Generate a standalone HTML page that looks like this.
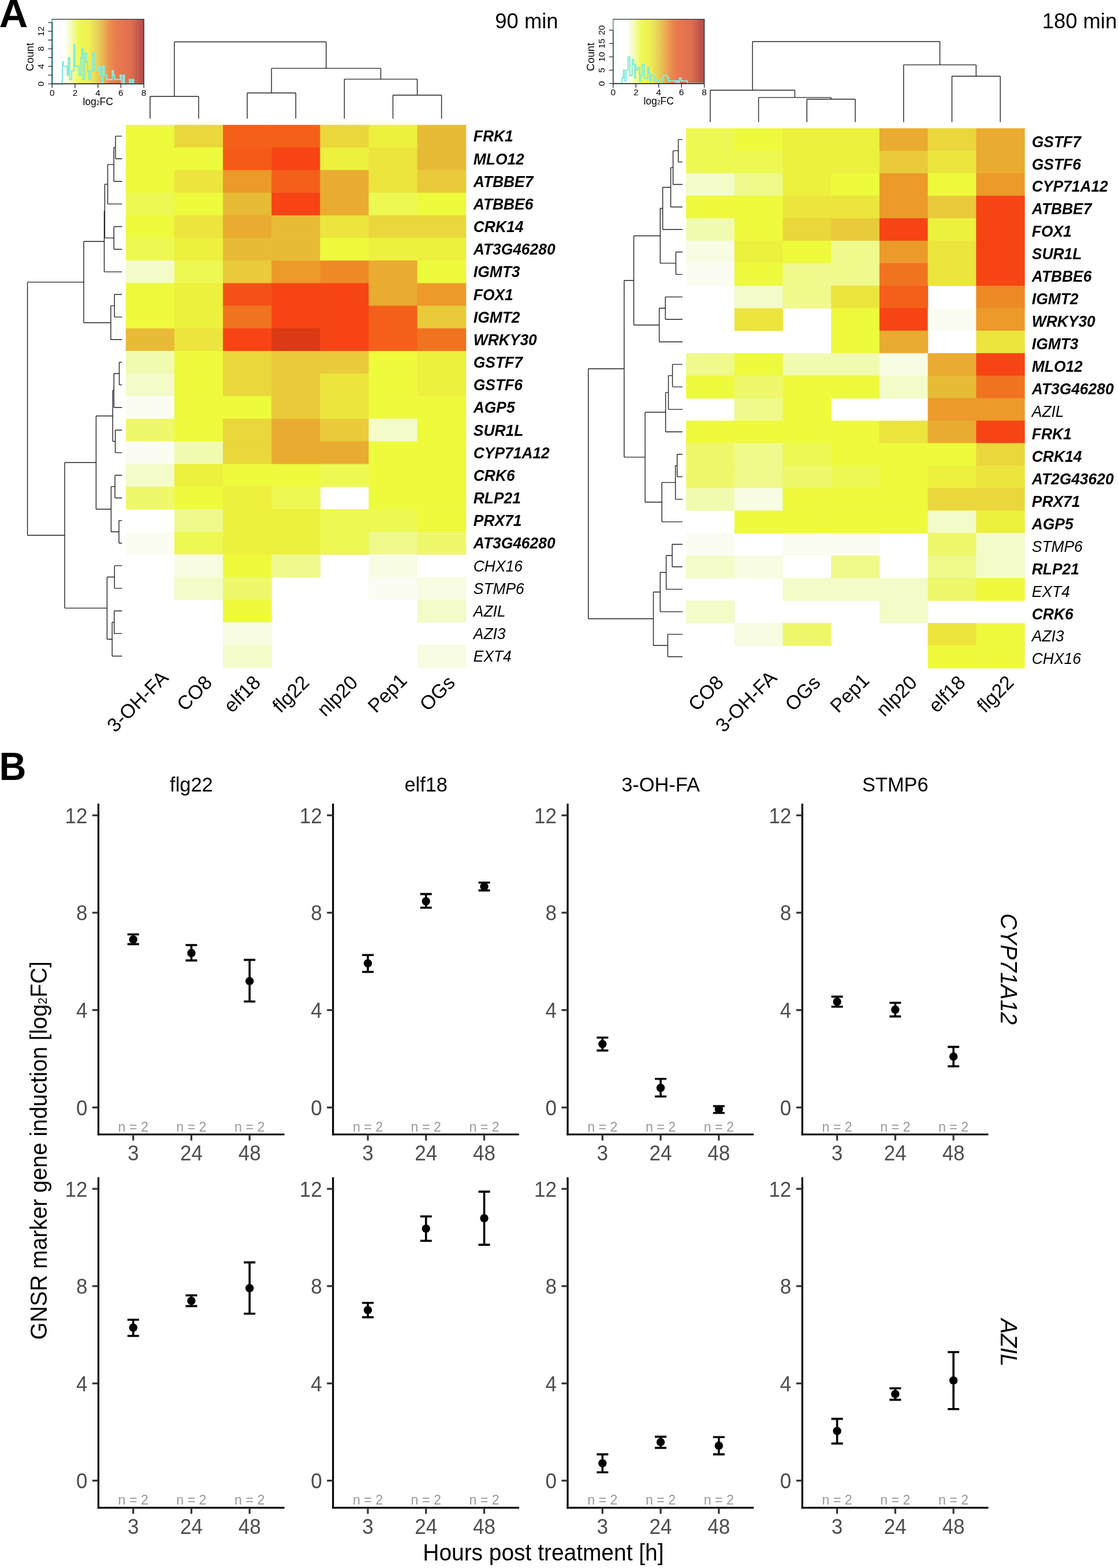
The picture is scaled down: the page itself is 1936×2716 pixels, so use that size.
<!DOCTYPE html><html><head><meta charset="utf-8"><title>Figure</title><style>html,body{margin:0;padding:0;background:#fff;}svg{display:block;}</style></head><body>
<svg width="1936" height="2716" viewBox="0 0 1936 2716" font-family="'Liberation Sans', Arial, Helvetica, sans-serif">
<rect width="1936" height="2716" fill="#fff"/>
<text transform="translate(-1.6,47)" font-size="69" font-weight="bold">A</text>
<text transform="translate(-1.6,1350.6) scale(0.94,1)" font-size="69" font-weight="bold">B</text>
<rect x="217.8" y="216.3" width="84.72" height="39.76" fill="#eefa3c"/>
<rect x="301.92" y="216.3" width="84.72" height="39.76" fill="#ead73b"/>
<rect x="386.04" y="216.3" width="84.72" height="39.76" fill="#f4601a"/>
<rect x="470.16" y="216.3" width="84.72" height="39.76" fill="#f4601a"/>
<rect x="554.28" y="216.3" width="84.72" height="39.76" fill="#ead73b"/>
<rect x="638.4" y="216.3" width="84.72" height="39.76" fill="#edf03c"/>
<rect x="722.52" y="216.3" width="84.72" height="39.76" fill="#e8bb36"/>
<rect x="217.8" y="255.46" width="84.72" height="39.76" fill="#eefa3c"/>
<rect x="301.92" y="255.46" width="84.72" height="39.76" fill="#eefa3c"/>
<rect x="386.04" y="255.46" width="84.72" height="39.76" fill="#f55a18"/>
<rect x="470.16" y="255.46" width="84.72" height="39.76" fill="#f64415"/>
<rect x="554.28" y="255.46" width="84.72" height="39.76" fill="#edf03c"/>
<rect x="638.4" y="255.46" width="84.72" height="39.76" fill="#ece53d"/>
<rect x="722.52" y="255.46" width="84.72" height="39.76" fill="#e8bb36"/>
<rect x="217.8" y="294.62" width="84.72" height="39.76" fill="#eefa3c"/>
<rect x="301.92" y="294.62" width="84.72" height="39.76" fill="#ece53d"/>
<rect x="386.04" y="294.62" width="84.72" height="39.76" fill="#ec9a2a"/>
<rect x="470.16" y="294.62" width="84.72" height="39.76" fill="#f4601a"/>
<rect x="554.28" y="294.62" width="84.72" height="39.76" fill="#e9ab30"/>
<rect x="638.4" y="294.62" width="84.72" height="39.76" fill="#ece53d"/>
<rect x="722.52" y="294.62" width="84.72" height="39.76" fill="#e9ca3a"/>
<rect x="217.8" y="333.78" width="84.72" height="39.76" fill="#eef852"/>
<rect x="301.92" y="333.78" width="84.72" height="39.76" fill="#eefa3c"/>
<rect x="386.04" y="333.78" width="84.72" height="39.76" fill="#e8bb36"/>
<rect x="470.16" y="333.78" width="84.72" height="39.76" fill="#f64415"/>
<rect x="554.28" y="333.78" width="84.72" height="39.76" fill="#e9ab30"/>
<rect x="638.4" y="333.78" width="84.72" height="39.76" fill="#eef852"/>
<rect x="722.52" y="333.78" width="84.72" height="39.76" fill="#eefa3c"/>
<rect x="217.8" y="372.94" width="84.72" height="39.76" fill="#eefa3c"/>
<rect x="301.92" y="372.94" width="84.72" height="39.76" fill="#ece53d"/>
<rect x="386.04" y="372.94" width="84.72" height="39.76" fill="#e9ab30"/>
<rect x="470.16" y="372.94" width="84.72" height="39.76" fill="#e8bb36"/>
<rect x="554.28" y="372.94" width="84.72" height="39.76" fill="#ece53d"/>
<rect x="638.4" y="372.94" width="84.72" height="39.76" fill="#ead73b"/>
<rect x="722.52" y="372.94" width="84.72" height="39.76" fill="#ead73b"/>
<rect x="217.8" y="412.1" width="84.72" height="39.76" fill="#eef852"/>
<rect x="301.92" y="412.1" width="84.72" height="39.76" fill="#edf03c"/>
<rect x="386.04" y="412.1" width="84.72" height="39.76" fill="#e8bb36"/>
<rect x="470.16" y="412.1" width="84.72" height="39.76" fill="#e8bb36"/>
<rect x="554.28" y="412.1" width="84.72" height="39.76" fill="#eefa3c"/>
<rect x="638.4" y="412.1" width="84.72" height="39.76" fill="#edf03c"/>
<rect x="722.52" y="412.1" width="84.72" height="39.76" fill="#edf03c"/>
<rect x="217.8" y="451.26" width="84.72" height="39.76" fill="#f3fbc9"/>
<rect x="301.92" y="451.26" width="84.72" height="39.76" fill="#eef852"/>
<rect x="386.04" y="451.26" width="84.72" height="39.76" fill="#e9ca3a"/>
<rect x="470.16" y="451.26" width="84.72" height="39.76" fill="#ec9a2a"/>
<rect x="554.28" y="451.26" width="84.72" height="39.76" fill="#ee8a25"/>
<rect x="638.4" y="451.26" width="84.72" height="39.76" fill="#e9ab30"/>
<rect x="722.52" y="451.26" width="84.72" height="39.76" fill="#eefa3c"/>
<rect x="217.8" y="490.42" width="84.72" height="39.76" fill="#eefa3c"/>
<rect x="301.92" y="490.42" width="84.72" height="39.76" fill="#edf03c"/>
<rect x="386.04" y="490.42" width="84.72" height="39.76" fill="#f55117"/>
<rect x="470.16" y="490.42" width="84.72" height="39.76" fill="#f64415"/>
<rect x="554.28" y="490.42" width="84.72" height="39.76" fill="#f64415"/>
<rect x="638.4" y="490.42" width="84.72" height="39.76" fill="#e9ab30"/>
<rect x="722.52" y="490.42" width="84.72" height="39.76" fill="#ec9a2a"/>
<rect x="217.8" y="529.58" width="84.72" height="39.76" fill="#eefa3c"/>
<rect x="301.92" y="529.58" width="84.72" height="39.76" fill="#edf03c"/>
<rect x="386.04" y="529.58" width="84.72" height="39.76" fill="#f07420"/>
<rect x="470.16" y="529.58" width="84.72" height="39.76" fill="#f64415"/>
<rect x="554.28" y="529.58" width="84.72" height="39.76" fill="#f64415"/>
<rect x="638.4" y="529.58" width="84.72" height="39.76" fill="#f4601a"/>
<rect x="722.52" y="529.58" width="84.72" height="39.76" fill="#e9ca3a"/>
<rect x="217.8" y="568.74" width="84.72" height="39.76" fill="#e8bb36"/>
<rect x="301.92" y="568.74" width="84.72" height="39.76" fill="#ece53d"/>
<rect x="386.04" y="568.74" width="84.72" height="39.76" fill="#f64415"/>
<rect x="470.16" y="568.74" width="84.72" height="39.76" fill="#da3a14"/>
<rect x="554.28" y="568.74" width="84.72" height="39.76" fill="#f64415"/>
<rect x="638.4" y="568.74" width="84.72" height="39.76" fill="#f4601a"/>
<rect x="722.52" y="568.74" width="84.72" height="39.76" fill="#f07420"/>
<rect x="217.8" y="607.9" width="84.72" height="39.76" fill="#f1fbb0"/>
<rect x="301.92" y="607.9" width="84.72" height="39.76" fill="#eefa3c"/>
<rect x="386.04" y="607.9" width="84.72" height="39.76" fill="#ead73b"/>
<rect x="470.16" y="607.9" width="84.72" height="39.76" fill="#e9ca3a"/>
<rect x="554.28" y="607.9" width="84.72" height="39.76" fill="#e9ca3a"/>
<rect x="638.4" y="607.9" width="84.72" height="39.76" fill="#eefa3c"/>
<rect x="722.52" y="607.9" width="84.72" height="39.76" fill="#edf03c"/>
<rect x="217.8" y="647.06" width="84.72" height="39.76" fill="#f3fbc9"/>
<rect x="301.92" y="647.06" width="84.72" height="39.76" fill="#eefa3c"/>
<rect x="386.04" y="647.06" width="84.72" height="39.76" fill="#ead73b"/>
<rect x="470.16" y="647.06" width="84.72" height="39.76" fill="#e9ca3a"/>
<rect x="554.28" y="647.06" width="84.72" height="39.76" fill="#ece53d"/>
<rect x="638.4" y="647.06" width="84.72" height="39.76" fill="#eefa3c"/>
<rect x="722.52" y="647.06" width="84.72" height="39.76" fill="#edf03c"/>
<rect x="217.8" y="686.22" width="84.72" height="39.76" fill="#fbfdf2"/>
<rect x="301.92" y="686.22" width="84.72" height="39.76" fill="#eefa3c"/>
<rect x="386.04" y="686.22" width="84.72" height="39.76" fill="#eefa3c"/>
<rect x="470.16" y="686.22" width="84.72" height="39.76" fill="#e9ca3a"/>
<rect x="554.28" y="686.22" width="84.72" height="39.76" fill="#ece53d"/>
<rect x="638.4" y="686.22" width="84.72" height="39.76" fill="#eefa3c"/>
<rect x="722.52" y="686.22" width="84.72" height="39.76" fill="#eefa3c"/>
<rect x="217.8" y="725.38" width="84.72" height="39.76" fill="#eef86a"/>
<rect x="301.92" y="725.38" width="84.72" height="39.76" fill="#eefa3c"/>
<rect x="386.04" y="725.38" width="84.72" height="39.76" fill="#ead73b"/>
<rect x="470.16" y="725.38" width="84.72" height="39.76" fill="#e9ab30"/>
<rect x="554.28" y="725.38" width="84.72" height="39.76" fill="#e9ca3a"/>
<rect x="638.4" y="725.38" width="84.72" height="39.76" fill="#f3fbc9"/>
<rect x="722.52" y="725.38" width="84.72" height="39.76" fill="#eefa3c"/>
<rect x="217.8" y="764.54" width="84.72" height="39.76" fill="#fbfdf2"/>
<rect x="301.92" y="764.54" width="84.72" height="39.76" fill="#f1fbb0"/>
<rect x="386.04" y="764.54" width="84.72" height="39.76" fill="#ead73b"/>
<rect x="470.16" y="764.54" width="84.72" height="39.76" fill="#e9ab30"/>
<rect x="554.28" y="764.54" width="84.72" height="39.76" fill="#e9ab30"/>
<rect x="638.4" y="764.54" width="84.72" height="39.76" fill="#eefa3c"/>
<rect x="722.52" y="764.54" width="84.72" height="39.76" fill="#eefa3c"/>
<rect x="217.8" y="803.7" width="84.72" height="39.76" fill="#f3fbc9"/>
<rect x="301.92" y="803.7" width="84.72" height="39.76" fill="#edf03c"/>
<rect x="386.04" y="803.7" width="84.72" height="39.76" fill="#eefa3c"/>
<rect x="470.16" y="803.7" width="84.72" height="39.76" fill="#eefa3c"/>
<rect x="554.28" y="803.7" width="84.72" height="39.76" fill="#eef852"/>
<rect x="638.4" y="803.7" width="84.72" height="39.76" fill="#eefa3c"/>
<rect x="722.52" y="803.7" width="84.72" height="39.76" fill="#eefa3c"/>
<rect x="217.8" y="842.86" width="84.72" height="39.76" fill="#eef86a"/>
<rect x="301.92" y="842.86" width="84.72" height="39.76" fill="#eefa3c"/>
<rect x="386.04" y="842.86" width="84.72" height="39.76" fill="#edf03c"/>
<rect x="470.16" y="842.86" width="84.72" height="39.76" fill="#eef852"/>
<rect x="638.4" y="842.86" width="84.72" height="39.76" fill="#eefa3c"/>
<rect x="722.52" y="842.86" width="84.72" height="39.76" fill="#eefa3c"/>
<rect x="301.92" y="882.02" width="84.72" height="39.76" fill="#eff98c"/>
<rect x="386.04" y="882.02" width="84.72" height="39.76" fill="#edf03c"/>
<rect x="470.16" y="882.02" width="84.72" height="39.76" fill="#edf03c"/>
<rect x="554.28" y="882.02" width="84.72" height="39.76" fill="#eef852"/>
<rect x="638.4" y="882.02" width="84.72" height="39.76" fill="#eef852"/>
<rect x="722.52" y="882.02" width="84.72" height="39.76" fill="#eefa3c"/>
<rect x="217.8" y="921.18" width="84.72" height="39.76" fill="#fbfdf2"/>
<rect x="301.92" y="921.18" width="84.72" height="39.76" fill="#eef852"/>
<rect x="386.04" y="921.18" width="84.72" height="39.76" fill="#edf03c"/>
<rect x="470.16" y="921.18" width="84.72" height="39.76" fill="#edf03c"/>
<rect x="554.28" y="921.18" width="84.72" height="39.76" fill="#eef852"/>
<rect x="638.4" y="921.18" width="84.72" height="39.76" fill="#eff98c"/>
<rect x="722.52" y="921.18" width="84.72" height="39.76" fill="#eef86a"/>
<rect x="301.92" y="960.34" width="84.72" height="39.76" fill="#f7fce2"/>
<rect x="386.04" y="960.34" width="84.72" height="39.76" fill="#eefa3c"/>
<rect x="470.16" y="960.34" width="84.72" height="39.76" fill="#eff98c"/>
<rect x="638.4" y="960.34" width="84.72" height="39.76" fill="#f7fce2"/>
<rect x="301.92" y="999.5" width="84.72" height="39.76" fill="#f3fbc9"/>
<rect x="386.04" y="999.5" width="84.72" height="39.76" fill="#eef86a"/>
<rect x="638.4" y="999.5" width="84.72" height="39.76" fill="#fbfdf2"/>
<rect x="722.52" y="999.5" width="84.72" height="39.76" fill="#f7fce2"/>
<rect x="386.04" y="1038.66" width="84.72" height="39.76" fill="#eefa3c"/>
<rect x="722.52" y="1038.66" width="84.72" height="39.76" fill="#f3fbc9"/>
<rect x="386.04" y="1077.82" width="84.72" height="39.76" fill="#f7fce2"/>
<rect x="386.04" y="1116.98" width="84.72" height="39.76" fill="#f3fbc9"/>
<rect x="722.52" y="1116.98" width="84.72" height="39.76" fill="#f7fce2"/>
<text transform="translate(819.8,245.48) scale(0.96,1)" font-size="27.5" font-style="italic" font-weight="bold">FRK1</text>
<text transform="translate(819.8,284.64) scale(0.96,1)" font-size="27.5" font-style="italic" font-weight="bold">MLO12</text>
<text transform="translate(819.8,323.8) scale(0.96,1)" font-size="27.5" font-style="italic" font-weight="bold">ATBBE7</text>
<text transform="translate(819.8,362.96) scale(0.96,1)" font-size="27.5" font-style="italic" font-weight="bold">ATBBE6</text>
<text transform="translate(819.8,402.12) scale(0.96,1)" font-size="27.5" font-style="italic" font-weight="bold">CRK14</text>
<text transform="translate(819.8,441.28) scale(0.96,1)" font-size="27.5" font-style="italic" font-weight="bold">AT3G46280</text>
<text transform="translate(819.8,480.44) scale(0.96,1)" font-size="27.5" font-style="italic" font-weight="bold">IGMT3</text>
<text transform="translate(819.8,519.6) scale(0.96,1)" font-size="27.5" font-style="italic" font-weight="bold">FOX1</text>
<text transform="translate(819.8,558.76) scale(0.96,1)" font-size="27.5" font-style="italic" font-weight="bold">IGMT2</text>
<text transform="translate(819.8,597.92) scale(0.96,1)" font-size="27.5" font-style="italic" font-weight="bold">WRKY30</text>
<text transform="translate(819.8,637.08) scale(0.96,1)" font-size="27.5" font-style="italic" font-weight="bold">GSTF7</text>
<text transform="translate(819.8,676.24) scale(0.96,1)" font-size="27.5" font-style="italic" font-weight="bold">GSTF6</text>
<text transform="translate(819.8,715.4) scale(0.96,1)" font-size="27.5" font-style="italic" font-weight="bold">AGP5</text>
<text transform="translate(819.8,754.56) scale(0.96,1)" font-size="27.5" font-style="italic" font-weight="bold">SUR1L</text>
<text transform="translate(819.8,793.72) scale(0.96,1)" font-size="27.5" font-style="italic" font-weight="bold">CYP71A12</text>
<text transform="translate(819.8,832.88) scale(0.96,1)" font-size="27.5" font-style="italic" font-weight="bold">CRK6</text>
<text transform="translate(819.8,872.04) scale(0.96,1)" font-size="27.5" font-style="italic" font-weight="bold">RLP21</text>
<text transform="translate(819.8,911.2) scale(0.96,1)" font-size="27.5" font-style="italic" font-weight="bold">PRX71</text>
<text transform="translate(819.8,950.36) scale(0.96,1)" font-size="27.5" font-style="italic" font-weight="bold">AT3G46280</text>
<text transform="translate(819.8,989.52) scale(0.96,1)" font-size="27.5" font-style="italic" font-weight="normal">CHX16</text>
<text transform="translate(819.8,1028.68) scale(0.96,1)" font-size="27.5" font-style="italic" font-weight="normal">STMP6</text>
<text transform="translate(819.8,1067.84) scale(0.96,1)" font-size="27.5" font-style="italic" font-weight="normal">AZIL</text>
<text transform="translate(819.8,1107) scale(0.96,1)" font-size="27.5" font-style="italic" font-weight="normal">AZI3</text>
<text transform="translate(819.8,1146.16) scale(0.96,1)" font-size="27.5" font-style="italic" font-weight="normal">EXT4</text>
<text transform="translate(966.6,48.6)" font-size="36.4" text-anchor="end">90 min</text>
<path d="M259.86 167L259.86 205.5M343.98 167L343.98 205.5M259.86 167L343.98 167M428.1 161L428.1 205.5M512.22 161L512.22 205.5M428.1 161L512.22 161M680.46 164.7L680.46 205.5M764.58 164.7L764.58 205.5M680.46 164.7L764.58 164.7M596.34 137.1L596.34 205.5M722.52 137.1L722.52 164.7M596.34 137.1L722.52 137.1M470.16 118.4L470.16 161M659.43 118.4L659.43 137.1M470.16 118.4L659.43 118.4M301.92 72.5L301.92 167M564.8 72.5L564.8 118.4M301.92 72.5L564.8 72.5" stroke="#222" stroke-width="1.4" fill="none"/>
<path d="M200 235.88L211.3 235.88M200 275.04L211.3 275.04M200 235.88L200 275.04M197.2 255.46L200 255.46M197.2 314.2L211.3 314.2M197.2 255.46L197.2 314.2M186.5 284.83L197.2 284.83M186.5 353.36L211.3 353.36M186.5 284.83L186.5 353.36M197.3 392.52L211.3 392.52M197.3 431.68L211.3 431.68M197.3 392.52L197.3 431.68M181.4 319.1L186.5 319.1M181.4 412.1L197.3 412.1M181.4 319.1L181.4 412.1M180.5 365.6L181.4 365.6M180.5 470.84L211.3 470.84M180.5 365.6L180.5 470.84M198.2 510L211.3 510M198.2 549.16L211.3 549.16M198.2 510L198.2 549.16M191.9 529.58L198.2 529.58M191.9 588.32L211.3 588.32M191.9 529.58L191.9 588.32M145 418.22L180.5 418.22M145 558.95L191.9 558.95M145 418.22L145 558.95M206.5 627.48L211.3 627.48M206.5 666.64L211.3 666.64M206.5 627.48L206.5 666.64M197.3 647.06L206.5 647.06M197.3 705.8L211.3 705.8M197.3 647.06L197.3 705.8M199.6 744.96L211.3 744.96M199.6 784.12L211.3 784.12M199.6 744.96L199.6 784.12M195.2 676.43L197.3 676.43M195.2 764.54L199.6 764.54M195.2 676.43L195.2 764.54M199.1 823.28L211.3 823.28M199.1 862.44L211.3 862.44M199.1 823.28L199.1 862.44M206 901.6L211.3 901.6M206 940.76L211.3 940.76M206 901.6L206 940.76M192.4 842.86L199.1 842.86M192.4 921.18L206 921.18M192.4 842.86L192.4 921.18M166.4 720.48L195.2 720.48M166.4 882.02L192.4 882.02M166.4 720.48L166.4 882.02M198.3 979.92L211.3 979.92M198.3 1019.08L211.3 1019.08M198.3 979.92L198.3 1019.08M197.7 1058.24L211.3 1058.24M197.7 1097.4L211.3 1097.4M197.7 1058.24L197.7 1097.4M194.2 1077.82L197.7 1077.82M194.2 1136.56L211.3 1136.56M194.2 1077.82L194.2 1136.56M185.4 999.5L198.3 999.5M185.4 1107.19L194.2 1107.19M185.4 999.5L185.4 1107.19M112 801.25L166.4 801.25M112 1053.35L185.4 1053.35M112 801.25L112 1053.35M47.6 488.58L145 488.58M47.6 927.3L112 927.3M47.6 488.58L47.6 927.3" stroke="#222" stroke-width="1.4" fill="none"/>
<rect x="1188" y="222.2" width="84.32" height="39.55" fill="#eef852"/>
<rect x="1271.72" y="222.2" width="84.32" height="39.55" fill="#eefa3c"/>
<rect x="1355.44" y="222.2" width="84.32" height="39.55" fill="#edf03c"/>
<rect x="1439.16" y="222.2" width="84.32" height="39.55" fill="#edf03c"/>
<rect x="1522.88" y="222.2" width="84.32" height="39.55" fill="#e9ab30"/>
<rect x="1606.6" y="222.2" width="84.32" height="39.55" fill="#ead73b"/>
<rect x="1690.32" y="222.2" width="84.32" height="39.55" fill="#e9ab30"/>
<rect x="1188" y="261.15" width="84.32" height="39.55" fill="#eef852"/>
<rect x="1271.72" y="261.15" width="84.32" height="39.55" fill="#eef852"/>
<rect x="1355.44" y="261.15" width="84.32" height="39.55" fill="#edf03c"/>
<rect x="1439.16" y="261.15" width="84.32" height="39.55" fill="#edf03c"/>
<rect x="1522.88" y="261.15" width="84.32" height="39.55" fill="#e9ca3a"/>
<rect x="1606.6" y="261.15" width="84.32" height="39.55" fill="#ece53d"/>
<rect x="1690.32" y="261.15" width="84.32" height="39.55" fill="#e9ab30"/>
<rect x="1188" y="300.1" width="84.32" height="39.55" fill="#f3fbc9"/>
<rect x="1271.72" y="300.1" width="84.32" height="39.55" fill="#eff98c"/>
<rect x="1355.44" y="300.1" width="84.32" height="39.55" fill="#edf03c"/>
<rect x="1439.16" y="300.1" width="84.32" height="39.55" fill="#eefa3c"/>
<rect x="1522.88" y="300.1" width="84.32" height="39.55" fill="#ec9a2a"/>
<rect x="1606.6" y="300.1" width="84.32" height="39.55" fill="#eefa3c"/>
<rect x="1690.32" y="300.1" width="84.32" height="39.55" fill="#ec9a2a"/>
<rect x="1188" y="339.05" width="84.32" height="39.55" fill="#eefa3c"/>
<rect x="1271.72" y="339.05" width="84.32" height="39.55" fill="#eefa3c"/>
<rect x="1355.44" y="339.05" width="84.32" height="39.55" fill="#ece53d"/>
<rect x="1439.16" y="339.05" width="84.32" height="39.55" fill="#ece53d"/>
<rect x="1522.88" y="339.05" width="84.32" height="39.55" fill="#ec9a2a"/>
<rect x="1606.6" y="339.05" width="84.32" height="39.55" fill="#e9ca3a"/>
<rect x="1690.32" y="339.05" width="84.32" height="39.55" fill="#f64415"/>
<rect x="1188" y="378" width="84.32" height="39.55" fill="#f1fbb0"/>
<rect x="1271.72" y="378" width="84.32" height="39.55" fill="#eefa3c"/>
<rect x="1355.44" y="378" width="84.32" height="39.55" fill="#ead73b"/>
<rect x="1439.16" y="378" width="84.32" height="39.55" fill="#e9ca3a"/>
<rect x="1522.88" y="378" width="84.32" height="39.55" fill="#f64415"/>
<rect x="1606.6" y="378" width="84.32" height="39.55" fill="#edf03c"/>
<rect x="1690.32" y="378" width="84.32" height="39.55" fill="#f64415"/>
<rect x="1188" y="416.95" width="84.32" height="39.55" fill="#f7fce2"/>
<rect x="1271.72" y="416.95" width="84.32" height="39.55" fill="#edf03c"/>
<rect x="1355.44" y="416.95" width="84.32" height="39.55" fill="#eefa3c"/>
<rect x="1439.16" y="416.95" width="84.32" height="39.55" fill="#eff98c"/>
<rect x="1522.88" y="416.95" width="84.32" height="39.55" fill="#ec9a2a"/>
<rect x="1606.6" y="416.95" width="84.32" height="39.55" fill="#ece53d"/>
<rect x="1690.32" y="416.95" width="84.32" height="39.55" fill="#f64415"/>
<rect x="1188" y="455.9" width="84.32" height="39.55" fill="#fbfdf2"/>
<rect x="1271.72" y="455.9" width="84.32" height="39.55" fill="#eefa3c"/>
<rect x="1355.44" y="455.9" width="84.32" height="39.55" fill="#eff98c"/>
<rect x="1439.16" y="455.9" width="84.32" height="39.55" fill="#eff98c"/>
<rect x="1522.88" y="455.9" width="84.32" height="39.55" fill="#f07420"/>
<rect x="1606.6" y="455.9" width="84.32" height="39.55" fill="#ece53d"/>
<rect x="1690.32" y="455.9" width="84.32" height="39.55" fill="#f64415"/>
<rect x="1271.72" y="494.85" width="84.32" height="39.55" fill="#f3fbc9"/>
<rect x="1355.44" y="494.85" width="84.32" height="39.55" fill="#eff98c"/>
<rect x="1439.16" y="494.85" width="84.32" height="39.55" fill="#ece53d"/>
<rect x="1522.88" y="494.85" width="84.32" height="39.55" fill="#f4601a"/>
<rect x="1690.32" y="494.85" width="84.32" height="39.55" fill="#ee8a25"/>
<rect x="1271.72" y="533.8" width="84.32" height="39.55" fill="#ece53d"/>
<rect x="1439.16" y="533.8" width="84.32" height="39.55" fill="#eefa3c"/>
<rect x="1522.88" y="533.8" width="84.32" height="39.55" fill="#f64415"/>
<rect x="1606.6" y="533.8" width="84.32" height="39.55" fill="#fbfdf2"/>
<rect x="1690.32" y="533.8" width="84.32" height="39.55" fill="#ec9a2a"/>
<rect x="1439.16" y="572.75" width="84.32" height="39.55" fill="#eefa3c"/>
<rect x="1522.88" y="572.75" width="84.32" height="39.55" fill="#e9ab30"/>
<rect x="1690.32" y="572.75" width="84.32" height="39.55" fill="#ece53d"/>
<rect x="1188" y="611.7" width="84.32" height="39.55" fill="#eff98c"/>
<rect x="1271.72" y="611.7" width="84.32" height="39.55" fill="#eefa3c"/>
<rect x="1355.44" y="611.7" width="84.32" height="39.55" fill="#f1fbb0"/>
<rect x="1439.16" y="611.7" width="84.32" height="39.55" fill="#f1fbb0"/>
<rect x="1522.88" y="611.7" width="84.32" height="39.55" fill="#f7fce2"/>
<rect x="1606.6" y="611.7" width="84.32" height="39.55" fill="#e9ab30"/>
<rect x="1690.32" y="611.7" width="84.32" height="39.55" fill="#f64415"/>
<rect x="1188" y="650.65" width="84.32" height="39.55" fill="#eefa3c"/>
<rect x="1271.72" y="650.65" width="84.32" height="39.55" fill="#eef86a"/>
<rect x="1355.44" y="650.65" width="84.32" height="39.55" fill="#eefa3c"/>
<rect x="1439.16" y="650.65" width="84.32" height="39.55" fill="#eefa3c"/>
<rect x="1522.88" y="650.65" width="84.32" height="39.55" fill="#f3fbc9"/>
<rect x="1606.6" y="650.65" width="84.32" height="39.55" fill="#e8bb36"/>
<rect x="1690.32" y="650.65" width="84.32" height="39.55" fill="#f07420"/>
<rect x="1271.72" y="689.6" width="84.32" height="39.55" fill="#eff98c"/>
<rect x="1355.44" y="689.6" width="84.32" height="39.55" fill="#eefa3c"/>
<rect x="1606.6" y="689.6" width="84.32" height="39.55" fill="#ec9a2a"/>
<rect x="1690.32" y="689.6" width="84.32" height="39.55" fill="#ec9a2a"/>
<rect x="1188" y="728.55" width="84.32" height="39.55" fill="#eefa3c"/>
<rect x="1271.72" y="728.55" width="84.32" height="39.55" fill="#eefa3c"/>
<rect x="1355.44" y="728.55" width="84.32" height="39.55" fill="#eefa3c"/>
<rect x="1439.16" y="728.55" width="84.32" height="39.55" fill="#eefa3c"/>
<rect x="1522.88" y="728.55" width="84.32" height="39.55" fill="#ece53d"/>
<rect x="1606.6" y="728.55" width="84.32" height="39.55" fill="#e9ab30"/>
<rect x="1690.32" y="728.55" width="84.32" height="39.55" fill="#f64415"/>
<rect x="1188" y="767.5" width="84.32" height="39.55" fill="#eef86a"/>
<rect x="1271.72" y="767.5" width="84.32" height="39.55" fill="#eff98c"/>
<rect x="1355.44" y="767.5" width="84.32" height="39.55" fill="#eef852"/>
<rect x="1439.16" y="767.5" width="84.32" height="39.55" fill="#eefa3c"/>
<rect x="1522.88" y="767.5" width="84.32" height="39.55" fill="#eefa3c"/>
<rect x="1606.6" y="767.5" width="84.32" height="39.55" fill="#eefa3c"/>
<rect x="1690.32" y="767.5" width="84.32" height="39.55" fill="#ead73b"/>
<rect x="1188" y="806.45" width="84.32" height="39.55" fill="#eef86a"/>
<rect x="1271.72" y="806.45" width="84.32" height="39.55" fill="#eff98c"/>
<rect x="1355.44" y="806.45" width="84.32" height="39.55" fill="#eef86a"/>
<rect x="1439.16" y="806.45" width="84.32" height="39.55" fill="#eef852"/>
<rect x="1522.88" y="806.45" width="84.32" height="39.55" fill="#eefa3c"/>
<rect x="1606.6" y="806.45" width="84.32" height="39.55" fill="#edf03c"/>
<rect x="1690.32" y="806.45" width="84.32" height="39.55" fill="#ece53d"/>
<rect x="1188" y="845.4" width="84.32" height="39.55" fill="#f1fbb0"/>
<rect x="1271.72" y="845.4" width="84.32" height="39.55" fill="#f7fce2"/>
<rect x="1355.44" y="845.4" width="84.32" height="39.55" fill="#eefa3c"/>
<rect x="1439.16" y="845.4" width="84.32" height="39.55" fill="#eefa3c"/>
<rect x="1522.88" y="845.4" width="84.32" height="39.55" fill="#eefa3c"/>
<rect x="1606.6" y="845.4" width="84.32" height="39.55" fill="#ead73b"/>
<rect x="1690.32" y="845.4" width="84.32" height="39.55" fill="#ead73b"/>
<rect x="1271.72" y="884.35" width="84.32" height="39.55" fill="#eefa3c"/>
<rect x="1355.44" y="884.35" width="84.32" height="39.55" fill="#eefa3c"/>
<rect x="1439.16" y="884.35" width="84.32" height="39.55" fill="#eefa3c"/>
<rect x="1522.88" y="884.35" width="84.32" height="39.55" fill="#eefa3c"/>
<rect x="1606.6" y="884.35" width="84.32" height="39.55" fill="#f3fbc9"/>
<rect x="1690.32" y="884.35" width="84.32" height="39.55" fill="#edf03c"/>
<rect x="1188" y="923.3" width="84.32" height="39.55" fill="#fbfdf2"/>
<rect x="1355.44" y="923.3" width="84.32" height="39.55" fill="#fbfdf2"/>
<rect x="1439.16" y="923.3" width="84.32" height="39.55" fill="#fbfdf2"/>
<rect x="1606.6" y="923.3" width="84.32" height="39.55" fill="#eef86a"/>
<rect x="1690.32" y="923.3" width="84.32" height="39.55" fill="#f3fbc9"/>
<rect x="1188" y="962.25" width="84.32" height="39.55" fill="#f3fbc9"/>
<rect x="1271.72" y="962.25" width="84.32" height="39.55" fill="#f7fce2"/>
<rect x="1439.16" y="962.25" width="84.32" height="39.55" fill="#eff98c"/>
<rect x="1606.6" y="962.25" width="84.32" height="39.55" fill="#eff98c"/>
<rect x="1690.32" y="962.25" width="84.32" height="39.55" fill="#f3fbc9"/>
<rect x="1355.44" y="1001.2" width="84.32" height="39.55" fill="#f3fbc9"/>
<rect x="1439.16" y="1001.2" width="84.32" height="39.55" fill="#f3fbc9"/>
<rect x="1522.88" y="1001.2" width="84.32" height="39.55" fill="#f3fbc9"/>
<rect x="1606.6" y="1001.2" width="84.32" height="39.55" fill="#eef86a"/>
<rect x="1690.32" y="1001.2" width="84.32" height="39.55" fill="#eefa3c"/>
<rect x="1188" y="1040.15" width="84.32" height="39.55" fill="#f3fbc9"/>
<rect x="1522.88" y="1040.15" width="84.32" height="39.55" fill="#f3fbc9"/>
<rect x="1271.72" y="1079.1" width="84.32" height="39.55" fill="#f7fce2"/>
<rect x="1355.44" y="1079.1" width="84.32" height="39.55" fill="#eef86a"/>
<rect x="1606.6" y="1079.1" width="84.32" height="39.55" fill="#ece53d"/>
<rect x="1690.32" y="1079.1" width="84.32" height="39.55" fill="#eefa3c"/>
<rect x="1606.6" y="1118.05" width="84.32" height="39.55" fill="#eefa3c"/>
<rect x="1690.32" y="1118.05" width="84.32" height="39.55" fill="#eefa3c"/>
<text transform="translate(1786.8,254.57) scale(0.96,1)" font-size="27.5" font-style="italic" font-weight="bold">GSTF7</text>
<text transform="translate(1786.8,293.53) scale(0.96,1)" font-size="27.5" font-style="italic" font-weight="bold">GSTF6</text>
<text transform="translate(1786.8,332.48) scale(0.96,1)" font-size="27.5" font-style="italic" font-weight="bold">CYP71A12</text>
<text transform="translate(1786.8,371.43) scale(0.96,1)" font-size="27.5" font-style="italic" font-weight="bold">ATBBE7</text>
<text transform="translate(1786.8,410.38) scale(0.96,1)" font-size="27.5" font-style="italic" font-weight="bold">FOX1</text>
<text transform="translate(1786.8,449.33) scale(0.96,1)" font-size="27.5" font-style="italic" font-weight="bold">SUR1L</text>
<text transform="translate(1786.8,488.28) scale(0.96,1)" font-size="27.5" font-style="italic" font-weight="bold">ATBBE6</text>
<text transform="translate(1786.8,527.23) scale(0.96,1)" font-size="27.5" font-style="italic" font-weight="bold">IGMT2</text>
<text transform="translate(1786.8,566.18) scale(0.96,1)" font-size="27.5" font-style="italic" font-weight="bold">WRKY30</text>
<text transform="translate(1786.8,605.12) scale(0.96,1)" font-size="27.5" font-style="italic" font-weight="bold">IGMT3</text>
<text transform="translate(1786.8,644.07) scale(0.96,1)" font-size="27.5" font-style="italic" font-weight="bold">MLO12</text>
<text transform="translate(1786.8,683.02) scale(0.96,1)" font-size="27.5" font-style="italic" font-weight="bold">AT3G46280</text>
<text transform="translate(1786.8,721.98) scale(0.96,1)" font-size="27.5" font-style="italic" font-weight="normal">AZIL</text>
<text transform="translate(1786.8,760.93) scale(0.96,1)" font-size="27.5" font-style="italic" font-weight="bold">FRK1</text>
<text transform="translate(1786.8,799.88) scale(0.96,1)" font-size="27.5" font-style="italic" font-weight="bold">CRK14</text>
<text transform="translate(1786.8,838.82) scale(0.96,1)" font-size="27.5" font-style="italic" font-weight="bold">AT2G43620</text>
<text transform="translate(1786.8,877.77) scale(0.96,1)" font-size="27.5" font-style="italic" font-weight="bold">PRX71</text>
<text transform="translate(1786.8,916.73) scale(0.96,1)" font-size="27.5" font-style="italic" font-weight="bold">AGP5</text>
<text transform="translate(1786.8,955.68) scale(0.96,1)" font-size="27.5" font-style="italic" font-weight="normal">STMP6</text>
<text transform="translate(1786.8,994.63) scale(0.96,1)" font-size="27.5" font-style="italic" font-weight="bold">RLP21</text>
<text transform="translate(1786.8,1033.57) scale(0.96,1)" font-size="27.5" font-style="italic" font-weight="normal">EXT4</text>
<text transform="translate(1786.8,1072.52) scale(0.96,1)" font-size="27.5" font-style="italic" font-weight="bold">CRK6</text>
<text transform="translate(1786.8,1111.47) scale(0.96,1)" font-size="27.5" font-style="italic" font-weight="normal">AZI3</text>
<text transform="translate(1786.8,1150.42) scale(0.96,1)" font-size="27.5" font-style="italic" font-weight="normal">CHX16</text>
<text transform="translate(1934.2,48.6)" font-size="36.4" text-anchor="end">180 min</text>
<path d="M1397.3 171.8L1397.3 211.5M1481.02 171.8L1481.02 211.5M1397.3 171.8L1481.02 171.8M1313.58 168.9L1313.58 211.5M1439.16 168.9L1439.16 171.8M1313.58 168.9L1439.16 168.9M1229.86 156.2L1229.86 211.5M1376.37 156.2L1376.37 168.9M1229.86 156.2L1376.37 156.2M1648.46 132L1648.46 211.5M1732.18 132L1732.18 211.5M1648.46 132L1732.18 132M1564.74 112.4L1564.74 211.5M1690.32 112.4L1690.32 132M1564.74 112.4L1690.32 112.4M1303.11 72L1303.11 156.2M1627.53 72L1627.53 112.4M1303.11 72L1627.53 72" stroke="#222" stroke-width="1.4" fill="none"/>
<path d="M1174.6 241.67L1181.8 241.67M1174.6 280.62L1181.8 280.62M1174.6 241.67L1174.6 280.62M1165.5 261.15L1174.6 261.15M1165.5 319.57L1181.8 319.57M1165.5 261.15L1165.5 319.57M1161.5 290.36L1165.5 290.36M1161.5 358.52L1181.8 358.52M1161.5 290.36L1161.5 358.52M1147.6 324.44L1161.5 324.44M1147.6 397.48L1181.8 397.48M1147.6 324.44L1147.6 397.48M1170.4 436.43L1181.8 436.43M1170.4 475.38L1181.8 475.38M1170.4 436.43L1170.4 475.38M1143.3 360.96L1147.6 360.96M1143.3 455.9L1170.4 455.9M1143.3 360.96L1143.3 455.9M1152.2 514.33L1181.8 514.33M1152.2 553.28L1181.8 553.28M1152.2 514.33L1152.2 553.28M1141.6 533.8L1152.2 533.8M1141.6 592.23L1181.8 592.23M1141.6 533.8L1141.6 592.23M1097.5 408.43L1143.3 408.43M1097.5 563.01L1141.6 563.01M1097.5 408.43L1097.5 563.01M1164.5 631.17L1181.8 631.17M1164.5 670.12L1181.8 670.12M1164.5 631.17L1164.5 670.12M1157.5 650.65L1164.5 650.65M1157.5 709.08L1181.8 709.08M1157.5 650.65L1157.5 709.08M1152.6 679.86L1157.5 679.86M1152.6 748.03L1181.8 748.03M1152.6 679.86L1152.6 748.03M1172.6 786.98L1181.8 786.98M1172.6 825.92L1181.8 825.92M1172.6 786.98L1172.6 825.92M1169.6 806.45L1172.6 806.45M1169.6 864.88L1181.8 864.88M1169.6 806.45L1169.6 864.88M1146.1 835.66L1169.6 835.66M1146.1 903.83L1181.8 903.83M1146.1 835.66L1146.1 903.83M1117.1 713.94L1152.6 713.94M1117.1 869.74L1146.1 869.74M1117.1 713.94L1117.1 869.74M1080.8 485.72L1097.5 485.72M1080.8 791.84L1117.1 791.84M1080.8 485.72L1080.8 791.84M1164 942.78L1181.8 942.78M1164 981.73L1181.8 981.73M1164 942.78L1164 981.73M1153.6 962.25L1164 962.25M1153.6 1020.67L1181.8 1020.67M1153.6 962.25L1153.6 1020.67M1143.2 991.46L1153.6 991.46M1143.2 1059.62L1181.8 1059.62M1143.2 991.46L1143.2 1059.62M1156.4 1098.58L1181.8 1098.58M1156.4 1137.53L1181.8 1137.53M1156.4 1098.58L1156.4 1137.53M1131.5 1025.54L1143.2 1025.54M1131.5 1118.05L1156.4 1118.05M1131.5 1025.54L1131.5 1118.05M1018.7 638.78L1080.8 638.78M1018.7 1071.8L1131.5 1071.8M1018.7 638.78L1018.7 1071.8" stroke="#222" stroke-width="1.4" fill="none"/>
<text transform="translate(293.46,1176) rotate(-45)" font-size="33.8" text-anchor="end">3-OH-FA</text>
<text transform="translate(369.28,1184.3) rotate(-45)" font-size="33.8" text-anchor="end">CO8</text>
<text transform="translate(453.4,1184.3) rotate(-45)" font-size="33.8" text-anchor="end">elf18</text>
<text transform="translate(537.52,1184.3) rotate(-45)" font-size="33.8" text-anchor="end">flg22</text>
<text transform="translate(621.64,1184.3) rotate(-45)" font-size="33.8" text-anchor="end">nlp20</text>
<text transform="translate(706.76,1180.8) rotate(-45)" font-size="33.8" text-anchor="end">Pep1</text>
<text transform="translate(789.88,1184.3) rotate(-45)" font-size="33.8" text-anchor="end">OGs</text>
<text transform="translate(1255.16,1184.3) rotate(-45)" font-size="33.8" text-anchor="end">CO8</text>
<text transform="translate(1347.18,1176) rotate(-45)" font-size="33.8" text-anchor="end">3-OH-FA</text>
<text transform="translate(1422.6,1184.3) rotate(-45)" font-size="33.8" text-anchor="end">OGs</text>
<text transform="translate(1507.32,1180.8) rotate(-45)" font-size="33.8" text-anchor="end">Pep1</text>
<text transform="translate(1590.04,1184.3) rotate(-45)" font-size="33.8" text-anchor="end">nlp20</text>
<text transform="translate(1673.76,1184.3) rotate(-45)" font-size="33.8" text-anchor="end">elf18</text>
<text transform="translate(1757.48,1184.3) rotate(-45)" font-size="33.8" text-anchor="end">flg22</text>
<defs><linearGradient id="gk1" x1="0" y1="0" x2="1" y2="0"><stop offset="0" stop-color="#ffffff"/><stop offset="0.13" stop-color="#ffffff"/><stop offset="0.21000000000000002" stop-color="#f4fbb8"/><stop offset="0.29000000000000004" stop-color="#eefa52"/><stop offset="0.40" stop-color="#eef052"/><stop offset="0.50" stop-color="#e8cf58"/><stop offset="0.57" stop-color="#e9ae52"/><stop offset="0.63" stop-color="#eb8e50"/><stop offset="0.70" stop-color="#ea7a50"/><stop offset="0.85" stop-color="#e0704f"/><stop offset="1" stop-color="#b24a4c"/></linearGradient></defs>
<rect x="90.2" y="33.4" width="158.9" height="111.9" fill="url(#gk1)" stroke="#222" stroke-width="1.2"/>
<path d="M90.2 145.3 L107.68 145.3 L107.68 137.71 L108.08 137.71 L108.08 107.35 L109.67 107.35 L109.67 114.94 L116.62 114.94 L116.62 130.12 L118.4 130.12 L118.4 99.76 L120.59 99.76 L120.59 137.71 L123.97 137.71 L123.97 122.53 L127.94 122.53 L127.94 76.99 L129.53 76.99 L129.53 114.94 L136.88 114.94 L136.88 130.12 L140.25 130.12 L140.25 99.76 L141.84 99.76 L141.84 84.58 L143.83 84.58 L143.83 137.71 L146.81 137.71 L146.81 92.17 L149.39 92.17 L149.39 107.35 L151.77 107.35 L151.77 122.53 L153.76 122.53 L153.76 137.71 L156.74 137.71 L156.74 122.53 L160.71 122.53 L160.71 92.17 L163.29 92.17 L163.29 122.53 L170.64 122.53 L170.64 114.94 L173.62 114.94 L173.62 130.12 L176.6 130.12 L176.6 145.3 L178.19 145.3 L178.19 114.94 L180.57 114.94 L180.57 130.12 L184.55 130.12 L184.55 137.71 L194.48 137.71 L194.48 122.53 L196.46 122.53 L196.46 130.12 L198.45 130.12 L198.45 137.71 L201.43 137.71 L201.43 137.71 L208.38 137.71 L208.38 130.12 L210.37 130.12 L210.37 145.3 L213.35 145.3 L213.35 130.12 L215.33 130.12 L215.33 145.3 L224.27 145.3 L224.27 137.71 L226.26 137.71 L226.26 145.3 L229.24 145.3 L229.24 137.71 L231.22 137.71 L231.22 145.3 L249.1 145.3" stroke="#84ecdc" stroke-width="2.2" fill="none"/>
<line x1="91" y1="34" x2="91" y2="145.3" stroke="#88f0f0" stroke-width="1.8"/>
<line x1="83.2" y1="145.3" x2="90.2" y2="145.3" stroke="#222" stroke-width="1.2"/>
<line x1="83.2" y1="130.12" x2="90.2" y2="130.12" stroke="#222" stroke-width="1.2"/>
<line x1="83.2" y1="114.94" x2="90.2" y2="114.94" stroke="#222" stroke-width="1.2"/>
<line x1="83.2" y1="99.76" x2="90.2" y2="99.76" stroke="#222" stroke-width="1.2"/>
<line x1="83.2" y1="84.58" x2="90.2" y2="84.58" stroke="#222" stroke-width="1.2"/>
<line x1="83.2" y1="69.4" x2="90.2" y2="69.4" stroke="#222" stroke-width="1.2"/>
<line x1="83.2" y1="54.22" x2="90.2" y2="54.22" stroke="#222" stroke-width="1.2"/>
<line x1="83.2" y1="39.04" x2="90.2" y2="39.04" stroke="#222" stroke-width="1.2"/>
<text transform="translate(75.9,145.3) rotate(-90)" font-size="15.4" text-anchor="middle">0</text>
<text transform="translate(75.9,114.94) rotate(-90)" font-size="15.4" text-anchor="middle">4</text>
<text transform="translate(75.9,84.58) rotate(-90)" font-size="15.4" text-anchor="middle">8</text>
<text transform="translate(75.9,54.22) rotate(-90)" font-size="15.4" text-anchor="middle">12</text>
<line x1="90.2" y1="39.04" x2="90.2" y2="145.3" stroke="#222" stroke-width="1.2"/>
<line x1="90.2" y1="145.3" x2="249.1" y2="145.3" stroke="#222" stroke-width="1.4"/>
<line x1="90.2" y1="145.3" x2="90.2" y2="152.3" stroke="#222" stroke-width="1.3"/>
<text transform="translate(90.2,165.6)" font-size="15.4" text-anchor="middle">0</text>
<line x1="129.93" y1="145.3" x2="129.93" y2="152.3" stroke="#222" stroke-width="1.3"/>
<text transform="translate(129.93,165.6)" font-size="15.4" text-anchor="middle">2</text>
<line x1="169.65" y1="145.3" x2="169.65" y2="152.3" stroke="#222" stroke-width="1.3"/>
<text transform="translate(169.65,165.6)" font-size="15.4" text-anchor="middle">4</text>
<line x1="209.38" y1="145.3" x2="209.38" y2="152.3" stroke="#222" stroke-width="1.3"/>
<text transform="translate(209.38,165.6)" font-size="15.4" text-anchor="middle">6</text>
<line x1="249.1" y1="145.3" x2="249.1" y2="152.3" stroke="#222" stroke-width="1.3"/>
<text transform="translate(249.1,165.6)" font-size="15.4" text-anchor="middle">8</text>
<text transform="translate(169.65,181.6)" font-size="17.6" text-anchor="middle">log<tspan font-size="10">2</tspan>FC</text>
<text transform="translate(57.7,98.6) rotate(-90)" font-size="18.4" text-anchor="middle">Count</text>
<defs><linearGradient id="gk2" x1="0" y1="0" x2="1" y2="0"><stop offset="0" stop-color="#ffffff"/><stop offset="0.15" stop-color="#ffffff"/><stop offset="0.22999999999999998" stop-color="#f4fbb8"/><stop offset="0.31" stop-color="#eefa52"/><stop offset="0.40" stop-color="#eef052"/><stop offset="0.50" stop-color="#e8cf58"/><stop offset="0.57" stop-color="#e9ae52"/><stop offset="0.63" stop-color="#eb8e50"/><stop offset="0.70" stop-color="#ea7a50"/><stop offset="0.85" stop-color="#e0704f"/><stop offset="1" stop-color="#b24a4c"/></linearGradient></defs>
<rect x="1061.7" y="33.4" width="157.9" height="111.3" fill="url(#gk2)" stroke="#222" stroke-width="1.2"/>
<path d="M1061.7 144.7 L1077.29 144.7 L1077.29 135.46 L1079.46 135.46 L1079.46 121.6 L1081.44 121.6 L1081.44 140.08 L1084.4 140.08 L1084.4 121.6 L1087.56 121.6 L1087.56 98.5 L1090.52 98.5 L1090.52 130.84 L1094.66 130.84 L1094.66 103.12 L1097.03 103.12 L1097.03 112.36 L1099.2 112.36 L1099.2 135.46 L1100.19 135.46 L1100.19 112.36 L1101.17 112.36 L1101.17 121.6 L1104.14 121.6 L1104.14 116.98 L1107.69 116.98 L1107.69 140.08 L1109.07 140.08 L1109.07 130.84 L1112.03 130.84 L1112.03 112.36 L1115.58 112.36 L1115.58 135.46 L1121.9 135.46 L1121.9 116.98 L1124.07 116.98 L1124.07 126.22 L1125.25 126.22 L1125.25 140.08 L1126.83 140.08 L1126.83 130.84 L1132.75 130.84 L1132.75 140.08 L1137.69 140.08 L1137.69 140.08 L1141.64 140.08 L1141.64 144.7 L1146.57 144.7 L1146.57 135.46 L1148.55 135.46 L1148.55 130.84 L1155.85 130.84 L1155.85 135.46 L1158.02 135.46 L1158.02 140.08 L1170.26 140.08 L1170.26 144.7 L1171.44 144.7 L1171.44 140.08 L1174.2 140.08 L1174.2 144.7 L1176.37 144.7 L1176.37 135.46 L1179.34 135.46 L1179.34 140.08 L1189.99 140.08 L1189.99 144.7 L1219.6 144.7" stroke="#84ecdc" stroke-width="2.2" fill="none"/>
<line x1="1062.5" y1="34" x2="1062.5" y2="144.7" stroke="#88f0f0" stroke-width="1.8"/>
<line x1="1054.7" y1="144.7" x2="1061.7" y2="144.7" stroke="#222" stroke-width="1.2"/>
<line x1="1054.7" y1="121.6" x2="1061.7" y2="121.6" stroke="#222" stroke-width="1.2"/>
<line x1="1054.7" y1="98.5" x2="1061.7" y2="98.5" stroke="#222" stroke-width="1.2"/>
<line x1="1054.7" y1="75.4" x2="1061.7" y2="75.4" stroke="#222" stroke-width="1.2"/>
<line x1="1054.7" y1="52.3" x2="1061.7" y2="52.3" stroke="#222" stroke-width="1.2"/>
<text transform="translate(1047.4,144.7) rotate(-90)" font-size="15.4" text-anchor="middle">0</text>
<text transform="translate(1047.4,121.6) rotate(-90)" font-size="15.4" text-anchor="middle">5</text>
<text transform="translate(1047.4,98.5) rotate(-90)" font-size="15.4" text-anchor="middle">10</text>
<text transform="translate(1047.4,75.4) rotate(-90)" font-size="15.4" text-anchor="middle">15</text>
<text transform="translate(1047.4,52.3) rotate(-90)" font-size="15.4" text-anchor="middle">20</text>
<line x1="1061.7" y1="52.3" x2="1061.7" y2="144.7" stroke="#222" stroke-width="1.2"/>
<line x1="1061.7" y1="144.7" x2="1219.6" y2="144.7" stroke="#222" stroke-width="1.4"/>
<line x1="1061.7" y1="144.7" x2="1061.7" y2="151.7" stroke="#222" stroke-width="1.3"/>
<text transform="translate(1061.7,165)" font-size="15.4" text-anchor="middle">0</text>
<line x1="1101.17" y1="144.7" x2="1101.17" y2="151.7" stroke="#222" stroke-width="1.3"/>
<text transform="translate(1101.17,165)" font-size="15.4" text-anchor="middle">2</text>
<line x1="1140.65" y1="144.7" x2="1140.65" y2="151.7" stroke="#222" stroke-width="1.3"/>
<text transform="translate(1140.65,165)" font-size="15.4" text-anchor="middle">4</text>
<line x1="1180.12" y1="144.7" x2="1180.12" y2="151.7" stroke="#222" stroke-width="1.3"/>
<text transform="translate(1180.12,165)" font-size="15.4" text-anchor="middle">6</text>
<line x1="1219.6" y1="144.7" x2="1219.6" y2="151.7" stroke="#222" stroke-width="1.3"/>
<text transform="translate(1219.6,165)" font-size="15.4" text-anchor="middle">8</text>
<text transform="translate(1140.65,181)" font-size="17.6" text-anchor="middle">log<tspan font-size="10">2</tspan>FC</text>
<text transform="translate(1029.2,98.6) rotate(-90)" font-size="18.4" text-anchor="middle">Count</text>
<line x1="170.4" y1="1392" x2="170.4" y2="1966.6" stroke="#000" stroke-width="3.2"/>
<line x1="168.8" y1="1965" x2="492.6" y2="1965" stroke="#000" stroke-width="3.2"/>
<line x1="159.9" y1="1918.3" x2="170.4" y2="1918.3" stroke="#333" stroke-width="3.2"/>
<text transform="translate(151.4,1931.6) scale(1,1.04)" font-size="35" text-anchor="end" fill="#4d4d4d">0</text>
<line x1="159.9" y1="1749.62" x2="170.4" y2="1749.62" stroke="#333" stroke-width="3.2"/>
<text transform="translate(151.4,1762.92) scale(1,1.04)" font-size="35" text-anchor="end" fill="#4d4d4d">4</text>
<line x1="159.9" y1="1580.94" x2="170.4" y2="1580.94" stroke="#333" stroke-width="3.2"/>
<text transform="translate(151.4,1594.24) scale(1,1.04)" font-size="35" text-anchor="end" fill="#4d4d4d">8</text>
<line x1="159.9" y1="1412.26" x2="170.4" y2="1412.26" stroke="#333" stroke-width="3.2"/>
<text transform="translate(151.4,1425.56) scale(1,1.04)" font-size="35" text-anchor="end" fill="#4d4d4d">12</text>
<line x1="230.7" y1="1965" x2="230.7" y2="1975.5" stroke="#333" stroke-width="3.2"/>
<text transform="translate(230.7,2010) scale(1,1.04)" font-size="35" text-anchor="middle" fill="#4d4d4d">3</text>
<text transform="translate(230.7,1959.5) scale(1,1.04)" font-size="23.2" text-anchor="middle" fill="#999999">n = 2</text>
<path d="M220.7 1618.5H240.7M230.7 1618.5V1635.4M220.7 1635.4H240.7" stroke="#000" stroke-width="3.6" fill="none"/>
<circle cx="230.7" cy="1627.4" r="7.2" fill="#000"/>
<line x1="331.4" y1="1965" x2="331.4" y2="1975.5" stroke="#333" stroke-width="3.2"/>
<text transform="translate(331.4,2010) scale(1,1.04)" font-size="35" text-anchor="middle" fill="#4d4d4d">24</text>
<text transform="translate(331.4,1959.5) scale(1,1.04)" font-size="23.2" text-anchor="middle" fill="#999999">n = 2</text>
<path d="M321.4 1637H341.4M331.4 1637V1663.6M321.4 1663.6H341.4" stroke="#000" stroke-width="3.6" fill="none"/>
<circle cx="331.4" cy="1650.8" r="7.2" fill="#000"/>
<line x1="432.2" y1="1965" x2="432.2" y2="1975.5" stroke="#333" stroke-width="3.2"/>
<text transform="translate(432.2,2010) scale(1,1.04)" font-size="35" text-anchor="middle" fill="#4d4d4d">48</text>
<text transform="translate(432.2,1959.5) scale(1,1.04)" font-size="23.2" text-anchor="middle" fill="#999999">n = 2</text>
<path d="M422.2 1662.6H442.2M432.2 1662.6V1734.7M422.2 1734.7H442.2" stroke="#000" stroke-width="3.6" fill="none"/>
<circle cx="432.2" cy="1699.5" r="7.2" fill="#000"/>
<line x1="576.7" y1="1392" x2="576.7" y2="1966.6" stroke="#000" stroke-width="3.2"/>
<line x1="575.1" y1="1965" x2="898.9" y2="1965" stroke="#000" stroke-width="3.2"/>
<line x1="566.2" y1="1918.3" x2="576.7" y2="1918.3" stroke="#333" stroke-width="3.2"/>
<text transform="translate(557.7,1931.6) scale(1,1.04)" font-size="35" text-anchor="end" fill="#4d4d4d">0</text>
<line x1="566.2" y1="1749.62" x2="576.7" y2="1749.62" stroke="#333" stroke-width="3.2"/>
<text transform="translate(557.7,1762.92) scale(1,1.04)" font-size="35" text-anchor="end" fill="#4d4d4d">4</text>
<line x1="566.2" y1="1580.94" x2="576.7" y2="1580.94" stroke="#333" stroke-width="3.2"/>
<text transform="translate(557.7,1594.24) scale(1,1.04)" font-size="35" text-anchor="end" fill="#4d4d4d">8</text>
<line x1="566.2" y1="1412.26" x2="576.7" y2="1412.26" stroke="#333" stroke-width="3.2"/>
<text transform="translate(557.7,1425.56) scale(1,1.04)" font-size="35" text-anchor="end" fill="#4d4d4d">12</text>
<line x1="637" y1="1965" x2="637" y2="1975.5" stroke="#333" stroke-width="3.2"/>
<text transform="translate(637,2010) scale(1,1.04)" font-size="35" text-anchor="middle" fill="#4d4d4d">3</text>
<text transform="translate(637,1959.5) scale(1,1.04)" font-size="23.2" text-anchor="middle" fill="#999999">n = 2</text>
<path d="M627 1654.3H647M637 1654.3V1683.5M627 1683.5H647" stroke="#000" stroke-width="3.6" fill="none"/>
<circle cx="637" cy="1668.6" r="7.2" fill="#000"/>
<line x1="737.7" y1="1965" x2="737.7" y2="1975.5" stroke="#333" stroke-width="3.2"/>
<text transform="translate(737.7,2010) scale(1,1.04)" font-size="35" text-anchor="middle" fill="#4d4d4d">24</text>
<text transform="translate(737.7,1959.5) scale(1,1.04)" font-size="23.2" text-anchor="middle" fill="#999999">n = 2</text>
<path d="M727.7 1548.6H747.7M737.7 1548.6V1572.3M727.7 1572.3H747.7" stroke="#000" stroke-width="3.6" fill="none"/>
<circle cx="737.7" cy="1561.1" r="7.2" fill="#000"/>
<line x1="838.5" y1="1965" x2="838.5" y2="1975.5" stroke="#333" stroke-width="3.2"/>
<text transform="translate(838.5,2010) scale(1,1.04)" font-size="35" text-anchor="middle" fill="#4d4d4d">48</text>
<text transform="translate(838.5,1959.5) scale(1,1.04)" font-size="23.2" text-anchor="middle" fill="#999999">n = 2</text>
<path d="M828.5 1528.7H848.5M838.5 1528.7V1542.4M828.5 1542.4H848.5" stroke="#000" stroke-width="3.6" fill="none"/>
<circle cx="838.5" cy="1535.6" r="7.2" fill="#000"/>
<line x1="983" y1="1392" x2="983" y2="1966.6" stroke="#000" stroke-width="3.2"/>
<line x1="981.4" y1="1965" x2="1305.2" y2="1965" stroke="#000" stroke-width="3.2"/>
<line x1="972.5" y1="1918.3" x2="983" y2="1918.3" stroke="#333" stroke-width="3.2"/>
<text transform="translate(964,1931.6) scale(1,1.04)" font-size="35" text-anchor="end" fill="#4d4d4d">0</text>
<line x1="972.5" y1="1749.62" x2="983" y2="1749.62" stroke="#333" stroke-width="3.2"/>
<text transform="translate(964,1762.92) scale(1,1.04)" font-size="35" text-anchor="end" fill="#4d4d4d">4</text>
<line x1="972.5" y1="1580.94" x2="983" y2="1580.94" stroke="#333" stroke-width="3.2"/>
<text transform="translate(964,1594.24) scale(1,1.04)" font-size="35" text-anchor="end" fill="#4d4d4d">8</text>
<line x1="972.5" y1="1412.26" x2="983" y2="1412.26" stroke="#333" stroke-width="3.2"/>
<text transform="translate(964,1425.56) scale(1,1.04)" font-size="35" text-anchor="end" fill="#4d4d4d">12</text>
<line x1="1043.3" y1="1965" x2="1043.3" y2="1975.5" stroke="#333" stroke-width="3.2"/>
<text transform="translate(1043.3,2010) scale(1,1.04)" font-size="35" text-anchor="middle" fill="#4d4d4d">3</text>
<text transform="translate(1043.3,1959.5) scale(1,1.04)" font-size="23.2" text-anchor="middle" fill="#999999">n = 2</text>
<path d="M1033.3 1797.3H1053.3M1043.3 1797.3V1819.6M1033.3 1819.6H1053.3" stroke="#000" stroke-width="3.6" fill="none"/>
<circle cx="1043.3" cy="1808.5" r="7.2" fill="#000"/>
<line x1="1144" y1="1965" x2="1144" y2="1975.5" stroke="#333" stroke-width="3.2"/>
<text transform="translate(1144,2010) scale(1,1.04)" font-size="35" text-anchor="middle" fill="#4d4d4d">24</text>
<text transform="translate(1144,1959.5) scale(1,1.04)" font-size="23.2" text-anchor="middle" fill="#999999">n = 2</text>
<path d="M1134 1868.7H1154M1144 1868.7V1899.2M1134 1899.2H1154" stroke="#000" stroke-width="3.6" fill="none"/>
<circle cx="1144" cy="1884.3" r="7.2" fill="#000"/>
<line x1="1244.8" y1="1965" x2="1244.8" y2="1975.5" stroke="#333" stroke-width="3.2"/>
<text transform="translate(1244.8,2010) scale(1,1.04)" font-size="35" text-anchor="middle" fill="#4d4d4d">48</text>
<text transform="translate(1244.8,1959.5) scale(1,1.04)" font-size="23.2" text-anchor="middle" fill="#999999">n = 2</text>
<path d="M1234.8 1916H1254.8M1244.8 1916V1927.8M1234.8 1927.8H1254.8" stroke="#000" stroke-width="3.6" fill="none"/>
<circle cx="1244.8" cy="1921.6" r="7.2" fill="#000"/>
<line x1="1389.3" y1="1392" x2="1389.3" y2="1966.6" stroke="#000" stroke-width="3.2"/>
<line x1="1387.7" y1="1965" x2="1711.5" y2="1965" stroke="#000" stroke-width="3.2"/>
<line x1="1378.8" y1="1918.3" x2="1389.3" y2="1918.3" stroke="#333" stroke-width="3.2"/>
<text transform="translate(1370.3,1931.6) scale(1,1.04)" font-size="35" text-anchor="end" fill="#4d4d4d">0</text>
<line x1="1378.8" y1="1749.62" x2="1389.3" y2="1749.62" stroke="#333" stroke-width="3.2"/>
<text transform="translate(1370.3,1762.92) scale(1,1.04)" font-size="35" text-anchor="end" fill="#4d4d4d">4</text>
<line x1="1378.8" y1="1580.94" x2="1389.3" y2="1580.94" stroke="#333" stroke-width="3.2"/>
<text transform="translate(1370.3,1594.24) scale(1,1.04)" font-size="35" text-anchor="end" fill="#4d4d4d">8</text>
<line x1="1378.8" y1="1412.26" x2="1389.3" y2="1412.26" stroke="#333" stroke-width="3.2"/>
<text transform="translate(1370.3,1425.56) scale(1,1.04)" font-size="35" text-anchor="end" fill="#4d4d4d">12</text>
<line x1="1449.6" y1="1965" x2="1449.6" y2="1975.5" stroke="#333" stroke-width="3.2"/>
<text transform="translate(1449.6,2010) scale(1,1.04)" font-size="35" text-anchor="middle" fill="#4d4d4d">3</text>
<text transform="translate(1449.6,1959.5) scale(1,1.04)" font-size="23.2" text-anchor="middle" fill="#999999">n = 2</text>
<path d="M1439.6 1726.4H1459.6M1449.6 1726.4V1743.8M1439.6 1743.8H1459.6" stroke="#000" stroke-width="3.6" fill="none"/>
<circle cx="1449.6" cy="1735.1" r="7.2" fill="#000"/>
<line x1="1550.3" y1="1965" x2="1550.3" y2="1975.5" stroke="#333" stroke-width="3.2"/>
<text transform="translate(1550.3,2010) scale(1,1.04)" font-size="35" text-anchor="middle" fill="#4d4d4d">24</text>
<text transform="translate(1550.3,1959.5) scale(1,1.04)" font-size="23.2" text-anchor="middle" fill="#999999">n = 2</text>
<path d="M1540.3 1737H1560.3M1550.3 1737V1760.6M1540.3 1760.6H1560.3" stroke="#000" stroke-width="3.6" fill="none"/>
<circle cx="1550.3" cy="1748.8" r="7.2" fill="#000"/>
<line x1="1651.1" y1="1965" x2="1651.1" y2="1975.5" stroke="#333" stroke-width="3.2"/>
<text transform="translate(1651.1,2010) scale(1,1.04)" font-size="35" text-anchor="middle" fill="#4d4d4d">48</text>
<text transform="translate(1651.1,1959.5) scale(1,1.04)" font-size="23.2" text-anchor="middle" fill="#999999">n = 2</text>
<path d="M1641.1 1813.4H1661.1M1651.1 1813.4V1847M1641.1 1847H1661.1" stroke="#000" stroke-width="3.6" fill="none"/>
<circle cx="1651.1" cy="1830.2" r="7.2" fill="#000"/>
<text transform="translate(1732.5,1678.5) rotate(90) scale(1,1.04)" font-size="39" text-anchor="middle" font-style="italic">CYP71A12</text>
<line x1="170.4" y1="2039.2" x2="170.4" y2="2613.2" stroke="#000" stroke-width="3.2"/>
<line x1="168.8" y1="2611.6" x2="492.6" y2="2611.6" stroke="#000" stroke-width="3.2"/>
<line x1="159.9" y1="2564.7" x2="170.4" y2="2564.7" stroke="#333" stroke-width="3.2"/>
<text transform="translate(151.4,2578) scale(1,1.04)" font-size="35" text-anchor="end" fill="#4d4d4d">0</text>
<line x1="159.9" y1="2396.22" x2="170.4" y2="2396.22" stroke="#333" stroke-width="3.2"/>
<text transform="translate(151.4,2409.52) scale(1,1.04)" font-size="35" text-anchor="end" fill="#4d4d4d">4</text>
<line x1="159.9" y1="2227.74" x2="170.4" y2="2227.74" stroke="#333" stroke-width="3.2"/>
<text transform="translate(151.4,2241.04) scale(1,1.04)" font-size="35" text-anchor="end" fill="#4d4d4d">8</text>
<line x1="159.9" y1="2059.26" x2="170.4" y2="2059.26" stroke="#333" stroke-width="3.2"/>
<text transform="translate(151.4,2072.56) scale(1,1.04)" font-size="35" text-anchor="end" fill="#4d4d4d">12</text>
<line x1="230.7" y1="2611.6" x2="230.7" y2="2622.1" stroke="#333" stroke-width="3.2"/>
<text transform="translate(230.7,2656.6) scale(1,1.04)" font-size="35" text-anchor="middle" fill="#4d4d4d">3</text>
<text transform="translate(230.7,2606.1) scale(1,1.04)" font-size="23.2" text-anchor="middle" fill="#999999">n = 2</text>
<path d="M220.7 2286H240.7M230.7 2286V2314M220.7 2314H240.7" stroke="#000" stroke-width="3.6" fill="none"/>
<circle cx="230.7" cy="2299.7" r="7.2" fill="#000"/>
<line x1="331.4" y1="2611.6" x2="331.4" y2="2622.1" stroke="#333" stroke-width="3.2"/>
<text transform="translate(331.4,2656.6) scale(1,1.04)" font-size="35" text-anchor="middle" fill="#4d4d4d">24</text>
<text transform="translate(331.4,2606.1) scale(1,1.04)" font-size="23.2" text-anchor="middle" fill="#999999">n = 2</text>
<path d="M321.4 2243.8H341.4M331.4 2243.8V2262.4M321.4 2262.4H341.4" stroke="#000" stroke-width="3.6" fill="none"/>
<circle cx="331.4" cy="2253.1" r="7.2" fill="#000"/>
<line x1="432.2" y1="2611.6" x2="432.2" y2="2622.1" stroke="#333" stroke-width="3.2"/>
<text transform="translate(432.2,2656.6) scale(1,1.04)" font-size="35" text-anchor="middle" fill="#4d4d4d">48</text>
<text transform="translate(432.2,2606.1) scale(1,1.04)" font-size="23.2" text-anchor="middle" fill="#999999">n = 2</text>
<path d="M422.2 2186.6H442.2M432.2 2186.6V2275.5M422.2 2275.5H442.2" stroke="#000" stroke-width="3.6" fill="none"/>
<circle cx="432.2" cy="2231.3" r="7.2" fill="#000"/>
<line x1="576.7" y1="2039.2" x2="576.7" y2="2613.2" stroke="#000" stroke-width="3.2"/>
<line x1="575.1" y1="2611.6" x2="898.9" y2="2611.6" stroke="#000" stroke-width="3.2"/>
<line x1="566.2" y1="2564.7" x2="576.7" y2="2564.7" stroke="#333" stroke-width="3.2"/>
<text transform="translate(557.7,2578) scale(1,1.04)" font-size="35" text-anchor="end" fill="#4d4d4d">0</text>
<line x1="566.2" y1="2396.22" x2="576.7" y2="2396.22" stroke="#333" stroke-width="3.2"/>
<text transform="translate(557.7,2409.52) scale(1,1.04)" font-size="35" text-anchor="end" fill="#4d4d4d">4</text>
<line x1="566.2" y1="2227.74" x2="576.7" y2="2227.74" stroke="#333" stroke-width="3.2"/>
<text transform="translate(557.7,2241.04) scale(1,1.04)" font-size="35" text-anchor="end" fill="#4d4d4d">8</text>
<line x1="566.2" y1="2059.26" x2="576.7" y2="2059.26" stroke="#333" stroke-width="3.2"/>
<text transform="translate(557.7,2072.56) scale(1,1.04)" font-size="35" text-anchor="end" fill="#4d4d4d">12</text>
<line x1="637" y1="2611.6" x2="637" y2="2622.1" stroke="#333" stroke-width="3.2"/>
<text transform="translate(637,2656.6) scale(1,1.04)" font-size="35" text-anchor="middle" fill="#4d4d4d">3</text>
<text transform="translate(637,2606.1) scale(1,1.04)" font-size="23.2" text-anchor="middle" fill="#999999">n = 2</text>
<path d="M627 2256.8H647M637 2256.8V2281.6M627 2281.6H647" stroke="#000" stroke-width="3.6" fill="none"/>
<circle cx="637" cy="2269.2" r="7.2" fill="#000"/>
<line x1="737.7" y1="2611.6" x2="737.7" y2="2622.1" stroke="#333" stroke-width="3.2"/>
<text transform="translate(737.7,2656.6) scale(1,1.04)" font-size="35" text-anchor="middle" fill="#4d4d4d">24</text>
<text transform="translate(737.7,2606.1) scale(1,1.04)" font-size="23.2" text-anchor="middle" fill="#999999">n = 2</text>
<path d="M727.7 2107H747.7M737.7 2107V2149.3M727.7 2149.3H747.7" stroke="#000" stroke-width="3.6" fill="none"/>
<circle cx="737.7" cy="2128.1" r="7.2" fill="#000"/>
<line x1="838.5" y1="2611.6" x2="838.5" y2="2622.1" stroke="#333" stroke-width="3.2"/>
<text transform="translate(838.5,2656.6) scale(1,1.04)" font-size="35" text-anchor="middle" fill="#4d4d4d">48</text>
<text transform="translate(838.5,2606.1) scale(1,1.04)" font-size="23.2" text-anchor="middle" fill="#999999">n = 2</text>
<path d="M828.5 2064.1H848.5M838.5 2064.1V2156.1M828.5 2156.1H848.5" stroke="#000" stroke-width="3.6" fill="none"/>
<circle cx="838.5" cy="2110.1" r="7.2" fill="#000"/>
<line x1="983" y1="2039.2" x2="983" y2="2613.2" stroke="#000" stroke-width="3.2"/>
<line x1="981.4" y1="2611.6" x2="1305.2" y2="2611.6" stroke="#000" stroke-width="3.2"/>
<line x1="972.5" y1="2564.7" x2="983" y2="2564.7" stroke="#333" stroke-width="3.2"/>
<text transform="translate(964,2578) scale(1,1.04)" font-size="35" text-anchor="end" fill="#4d4d4d">0</text>
<line x1="972.5" y1="2396.22" x2="983" y2="2396.22" stroke="#333" stroke-width="3.2"/>
<text transform="translate(964,2409.52) scale(1,1.04)" font-size="35" text-anchor="end" fill="#4d4d4d">4</text>
<line x1="972.5" y1="2227.74" x2="983" y2="2227.74" stroke="#333" stroke-width="3.2"/>
<text transform="translate(964,2241.04) scale(1,1.04)" font-size="35" text-anchor="end" fill="#4d4d4d">8</text>
<line x1="972.5" y1="2059.26" x2="983" y2="2059.26" stroke="#333" stroke-width="3.2"/>
<text transform="translate(964,2072.56) scale(1,1.04)" font-size="35" text-anchor="end" fill="#4d4d4d">12</text>
<line x1="1043.3" y1="2611.6" x2="1043.3" y2="2622.1" stroke="#333" stroke-width="3.2"/>
<text transform="translate(1043.3,2656.6) scale(1,1.04)" font-size="35" text-anchor="middle" fill="#4d4d4d">3</text>
<text transform="translate(1043.3,2606.1) scale(1,1.04)" font-size="23.2" text-anchor="middle" fill="#999999">n = 2</text>
<path d="M1033.3 2519.1H1053.3M1043.3 2519.1V2550.2M1033.3 2550.2H1053.3" stroke="#000" stroke-width="3.6" fill="none"/>
<circle cx="1043.3" cy="2534.6" r="7.2" fill="#000"/>
<line x1="1144" y1="2611.6" x2="1144" y2="2622.1" stroke="#333" stroke-width="3.2"/>
<text transform="translate(1144,2656.6) scale(1,1.04)" font-size="35" text-anchor="middle" fill="#4d4d4d">24</text>
<text transform="translate(1144,2606.1) scale(1,1.04)" font-size="23.2" text-anchor="middle" fill="#999999">n = 2</text>
<path d="M1134 2488.6H1154M1144 2488.6V2507.9M1134 2507.9H1154" stroke="#000" stroke-width="3.6" fill="none"/>
<circle cx="1144" cy="2498" r="7.2" fill="#000"/>
<line x1="1244.8" y1="2611.6" x2="1244.8" y2="2622.1" stroke="#333" stroke-width="3.2"/>
<text transform="translate(1244.8,2656.6) scale(1,1.04)" font-size="35" text-anchor="middle" fill="#4d4d4d">48</text>
<text transform="translate(1244.8,2606.1) scale(1,1.04)" font-size="23.2" text-anchor="middle" fill="#999999">n = 2</text>
<path d="M1234.8 2489.3H1254.8M1244.8 2489.3V2519.1M1234.8 2519.1H1254.8" stroke="#000" stroke-width="3.6" fill="none"/>
<circle cx="1244.8" cy="2504.2" r="7.2" fill="#000"/>
<line x1="1389.3" y1="2039.2" x2="1389.3" y2="2613.2" stroke="#000" stroke-width="3.2"/>
<line x1="1387.7" y1="2611.6" x2="1711.5" y2="2611.6" stroke="#000" stroke-width="3.2"/>
<line x1="1378.8" y1="2564.7" x2="1389.3" y2="2564.7" stroke="#333" stroke-width="3.2"/>
<text transform="translate(1370.3,2578) scale(1,1.04)" font-size="35" text-anchor="end" fill="#4d4d4d">0</text>
<line x1="1378.8" y1="2396.22" x2="1389.3" y2="2396.22" stroke="#333" stroke-width="3.2"/>
<text transform="translate(1370.3,2409.52) scale(1,1.04)" font-size="35" text-anchor="end" fill="#4d4d4d">4</text>
<line x1="1378.8" y1="2227.74" x2="1389.3" y2="2227.74" stroke="#333" stroke-width="3.2"/>
<text transform="translate(1370.3,2241.04) scale(1,1.04)" font-size="35" text-anchor="end" fill="#4d4d4d">8</text>
<line x1="1378.8" y1="2059.26" x2="1389.3" y2="2059.26" stroke="#333" stroke-width="3.2"/>
<text transform="translate(1370.3,2072.56) scale(1,1.04)" font-size="35" text-anchor="end" fill="#4d4d4d">12</text>
<line x1="1449.6" y1="2611.6" x2="1449.6" y2="2622.1" stroke="#333" stroke-width="3.2"/>
<text transform="translate(1449.6,2656.6) scale(1,1.04)" font-size="35" text-anchor="middle" fill="#4d4d4d">3</text>
<text transform="translate(1449.6,2606.1) scale(1,1.04)" font-size="23.2" text-anchor="middle" fill="#999999">n = 2</text>
<path d="M1439.6 2457.6H1459.6M1449.6 2457.6V2500.4M1439.6 2500.4H1459.6" stroke="#000" stroke-width="3.6" fill="none"/>
<circle cx="1449.6" cy="2478.7" r="7.2" fill="#000"/>
<line x1="1550.3" y1="2611.6" x2="1550.3" y2="2622.1" stroke="#333" stroke-width="3.2"/>
<text transform="translate(1550.3,2656.6) scale(1,1.04)" font-size="35" text-anchor="middle" fill="#4d4d4d">24</text>
<text transform="translate(1550.3,2606.1) scale(1,1.04)" font-size="23.2" text-anchor="middle" fill="#999999">n = 2</text>
<path d="M1540.3 2404.7H1560.3M1550.3 2404.7V2424.6M1540.3 2424.6H1560.3" stroke="#000" stroke-width="3.6" fill="none"/>
<circle cx="1550.3" cy="2414.7" r="7.2" fill="#000"/>
<line x1="1651.1" y1="2611.6" x2="1651.1" y2="2622.1" stroke="#333" stroke-width="3.2"/>
<text transform="translate(1651.1,2656.6) scale(1,1.04)" font-size="35" text-anchor="middle" fill="#4d4d4d">48</text>
<text transform="translate(1651.1,2606.1) scale(1,1.04)" font-size="23.2" text-anchor="middle" fill="#999999">n = 2</text>
<path d="M1641.1 2342H1661.1M1651.1 2342V2440.8M1641.1 2440.8H1661.1" stroke="#000" stroke-width="3.6" fill="none"/>
<circle cx="1651.1" cy="2391.1" r="7.2" fill="#000"/>
<text transform="translate(1732.5,2325.4) rotate(90) scale(1,1.04)" font-size="39" text-anchor="middle" font-style="italic">AZIL</text>
<text transform="translate(331.4,1370.5) scale(1,1.04)" font-size="34.4" text-anchor="middle">flg22</text>
<text transform="translate(737.7,1370.5) scale(1,1.04)" font-size="34.4" text-anchor="middle">elf18</text>
<text transform="translate(1144,1370.5) scale(1,1.04)" font-size="34.4" text-anchor="middle">3-OH-FA</text>
<text transform="translate(1550.3,1370.5) scale(1,1.04)" font-size="34.4" text-anchor="middle">STMP6</text>
<text transform="translate(80.5,1993) rotate(-90) scale(1,1.04)" font-size="38.9" text-anchor="middle">GNSR marker gene induction [log<tspan font-size="21">2</tspan>FC]</text>
<text transform="translate(940.9,2703.3) scale(1,1.04)" font-size="38.9" text-anchor="middle">Hours post treatment [h]</text>
</svg></body></html>
